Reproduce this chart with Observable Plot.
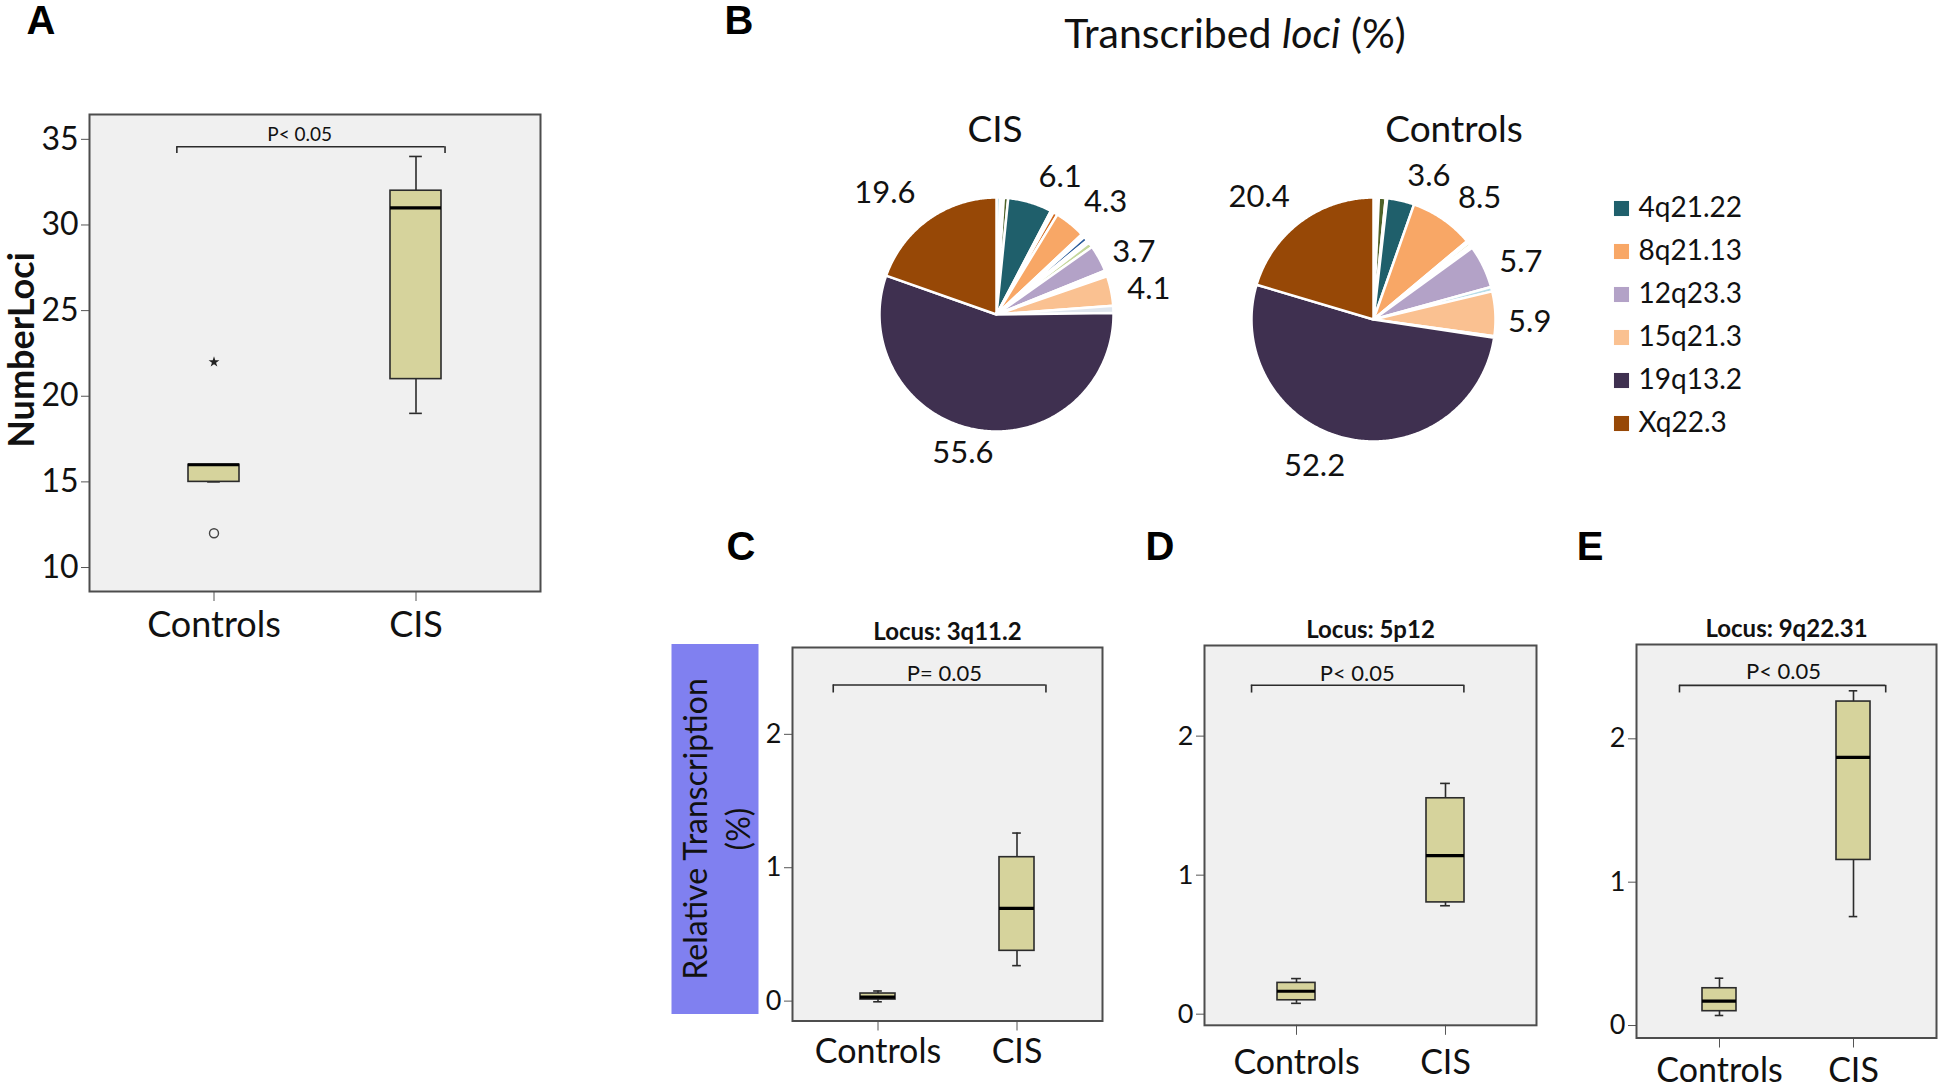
<!DOCTYPE html>
<html>
<head>
<meta charset="utf-8">
<script src="https://cdn.jsdelivr.net/npm/d3@7"></script>
<script src="https://cdn.jsdelivr.net/npm/@observablehq/plot@0.6"></script>
<style>
  html, body { margin: 0; padding: 0; background: #ffffff; }
  body { width: 1946px; height: 1089px; position: relative; overflow: hidden; font-family: Lato, "Open Sans", sans-serif; color: #111; }
  .abs { position: absolute; }
  .ctr { position: absolute; transform: translate(-50%, -50%); white-space: nowrap; line-height: 1.2; }
  .letter { font-family: "Liberation Sans", Arial, sans-serif; font-weight: bold; font-size: 40px; color: #000; }
  svg { max-width: none !important; }
</style>
</head>
<body>
<script>
// ---------------- DATA ----------------
const groups = ["Controls", "CIS"];

// Panel A: number of transcribed loci
const aLow = [15, 19];
const aQ1 = [15, 21];
const aMedian = [16, 31];
const aQ3 = [16, 32];
const aHigh = [16, 34];
const aOutlierGroup = ["Controls", "Controls"];
const aOutlierValue = [22, 12];
const aOutlierKind = ["extreme", "outlier"];
const aTicks = [10, 15, 20, 25, 30, 35];
const aP = "P< 0.05";

// Panel C: Locus 3q11.2
const cLow = [-0.005, 0.266];
const cQ1 = [0.012, 0.377];
const cMedian = [0.03, 0.696];
const cQ3 = [0.057, 1.079];
const cHigh = [0.076, 1.26];
const cP = "P= 0.05";

// Panel D: Locus 5p12
const dLow = [0.078, 0.78];
const dQ1 = [0.10, 0.804];
const dMedian = [0.165, 1.14];
const dQ3 = [0.225, 1.553];
const dHigh = [0.256, 1.66];
const dP = "P< 0.05";

// Panel E: Locus 9q22.31
const eLow = [0.07, 0.76];
const eQ1 = [0.10, 1.155];
const eMedian = [0.17, 1.87];
const eQ3 = [0.26, 2.26];
const eHigh = [0.33, 2.335];
const eP = "P< 0.05";

const relTicks = [0, 1, 2];

// Panel B: transcribed loci (%)
const lociNames = ["4q21.22", "8q21.13", "12q23.3", "15q21.3", "19q13.2", "Xq22.3"];
const lociColors = ["#1f5f6b", "#f8a766", "#b3a2c7", "#fac191", "#3f3050", "#974806"];
const minorNames = ["minor pale cyan", "minor olive", "minor rust", "minor blue", "minor pale green", "minor pale grey", "minor white"];
const minorColors = ["#b7dde8", "#4f6228", "#d2691e", "#2a5b9a", "#c4d79b", "#dfe6ee", "#ffffff"];

const cisSlices = ["minor pale cyan", "minor white", "minor olive", "4q21.22", "minor white", "minor rust", "8q21.13",
  "minor white", "minor blue", "minor white", "minor pale green", "12q23.3", "minor white", "15q21.3", "minor pale grey",
  "19q13.2", "Xq22.3"];
const cisPercent = [0.5, 0.5, 0.6, 6.1, 0.4, 0.6, 4.3, 0.5, 0.6, 0.4, 0.7, 3.7, 0.8, 4.1, 1.0, 55.6, 19.6];

const ctrlSlices = ["minor pale cyan", "minor white", "minor olive", "minor white", "4q21.22", "8q21.13", "minor white",
  "minor pale green", "minor white", "12q23.3", "minor pale cyan", "15q21.3", "minor white", "19q13.2", "Xq22.3"];
const ctrlPercent = [0.4, 0.3, 0.9, 0.2, 3.6, 8.5, 0.3, 0.4, 0.4, 5.7, 0.6, 5.9, 0.2, 52.2, 20.4];

// ---------------- LAYOUT / STYLE ----------------
const FONT = "Lato, 'Open Sans', sans-serif";
const allKeys = lociNames.concat(minorNames);
const allColors = lociColors.concat(minorColors);

// label placement tweaks (degrees of rotation, extra radial px) – mimic the original label layout
const cisLabelTweak = {"4q21.22": [7.5, 5], "8q21.13": [4, 6], "12q23.3": [2.7, -2], "15q21.3": [0.8, 2], "19q13.2": [4.7, -11], "Xq22.3": [-6.5, 8]};
const ctrlLabelTweak = {"4q21.22": [7.7, 3], "8q21.13": [5.5, 6], "12q23.3": [3.2, 0], "15q21.3": [2.3, 0], "19q13.2": [9.9, -4], "Xq22.3": [-5.4, 6]};

function place(node, left, top) {
  const d = document.createElement("div");
  d.className = "abs";
  d.style.left = left + "px";
  d.style.top = top + "px";
  d.appendChild(node);
  document.body.appendChild(d);
  return d;
}
function label(html, cx, cy, css) {
  const d = document.createElement("div");
  d.className = "ctr";
  d.style.left = cx + "px";
  d.style.top = cy + "px";
  d.innerHTML = html;
  Object.assign(d.style, css || {});
  document.body.appendChild(d);
  return d;
}

// band layout shared by all box plots
const PAD_IN = 0.748, PAD_OUT = 0.487;
function bandGeom() {
  const step = 1 / (2 - PAD_IN + 2 * PAD_OUT);
  const start0 = PAD_OUT * step;
  const bw = (1 - PAD_IN) * step;
  return {step, start0, bw, c0: start0 + bw / 2, c1: start0 + step + bw / 2, end1: start0 + step + bw};
}

function boxPanel(o) {
  const mL = 70, mR = 12, mT = 50, mB = 80;
  const [fx, fy, W, H] = o.frame;
  const g = bandGeom();
  const bwPx = g.bw * W;
  const capInset = bwPx * 0.375;
  const stats = groups.map((grp, i) => ({group: grp, lo: o.low[i], q1: o.q1[i], med: o.median[i], q3: o.q3[i], hi: o.high[i]}));
  const bracket = [{from: groups[0], to: groups[1], y: o.bracketY, yEnd: o.bracketEnd}];
  const ink = "#2b2b2b";
  const marks = [
    Plot.frame({fill: "#f0f0f0", stroke: "none"}),
    Plot.axisY({ticks: o.ticks, tickFormat: d => String(d), tickSize: 8, tickPadding: 3, fontSize: o.yFont, label: null, stroke: "#555"}),
    Plot.axisX({tickSize: 10, tickPadding: o.xPad, fontSize: o.xFont, label: null, stroke: "#555"}),
    Plot.ruleX(stats, {x: "group", y1: "lo", y2: "hi", stroke: ink, strokeWidth: 1.6}),
    Plot.tickY(stats, {x: "group", y: "lo", insetLeft: capInset, insetRight: capInset, stroke: ink, strokeWidth: 1.6}),
    Plot.tickY(stats, {x: "group", y: "hi", insetLeft: capInset, insetRight: capInset, stroke: ink, strokeWidth: 1.6}),
    Plot.barY(stats, {x: "group", y1: "q1", y2: "q3", fill: "#d6d39c", stroke: ink, strokeWidth: 1.6}),
    Plot.tickY(stats, {x: "group", y: "med", stroke: "#000", strokeWidth: 3.2}),
    // significance bracket
    Plot.ruleY(bracket, {y: "y", x1: "from", x2: "to", insetLeft: (o.bracketL - g.start0) * W, insetRight: (g.end1 - o.bracketR) * W, stroke: ink, strokeWidth: 1.6}),
    Plot.ruleX(bracket, {x: "from", y1: "y", y2: "yEnd", dx: (o.bracketL - g.c0) * W, stroke: ink, strokeWidth: 1.6}),
    Plot.ruleX(bracket, {x: "to", y1: "y", y2: "yEnd", dx: (o.bracketR - g.c1) * W, stroke: ink, strokeWidth: 1.6}),
    Plot.text([o.pText], {y: () => o.pY, text: d => d, dx: (o.pX - 0.5) * W, fontSize: o.pFont, fill: "#111"})
  ];
  if (o.outliers) {
    marks.push(Plot.dot(o.outliers.filter(d => d.kind === "outlier"), {x: "group", y: "value", r: 4.5, stroke: "#444", strokeWidth: 1.4, fill: "none"}));
    marks.push(Plot.dot(o.outliers.filter(d => d.kind === "extreme"), {x: "group", y: "value", r: 3.4, symbol: "star", fill: "#222", stroke: "none"}));
  }
  if (o.title) {
    marks.push(Plot.text([o.title], {text: d => d, frameAnchor: "top", lineAnchor: "middle", dy: -15, fontSize: 24, fontWeight: "bold", fill: "#111"}));
  }
  marks.push(Plot.frame({stroke: "#4d4d4d", strokeWidth: 2}));
  const svg = Plot.plot({
    width: mL + W + mR, height: mT + H + mB,
    marginLeft: mL, marginRight: mR, marginTop: mT, marginBottom: mB,
    x: {type: "band", domain: groups, paddingInner: PAD_IN, paddingOuter: PAD_OUT, label: null},
    y: {domain: o.yDomain, label: null},
    style: {background: "transparent", overflow: "visible", fontFamily: FONT, color: "#111", maxWidth: "none"},
    marks
  });
  place(svg, fx - mL, fy - mT);
}

function pieChart(slices, percents, cx, cy, R, tweak) {
  const size = 440, half = size / 2 / R;
  const arcs = d3.pie().sort(null).value(d => d)(percents);
  const pts = [];
  arcs.forEach((a, i) => {
    const n = Math.max(2, Math.ceil((a.endAngle - a.startAngle) / 0.01));
    pts.push({slice: i, key: slices[i], x: 0, y: 0});
    for (let k = 0; k <= n; k++) {
      const t = a.startAngle + (a.endAngle - a.startAngle) * k / n;
      pts.push({slice: i, key: slices[i], x: Math.sin(t), y: Math.cos(t)});
    }
  });
  const fs = 31;
  const labels = [];
  arcs.forEach((a, i) => {
    const key = slices[i];
    if (!lociNames.includes(key)) return;
    const [rot, extra] = tweak[key] || [0, 0];
    const mid = (a.startAngle + a.endAngle) / 2 + rot * Math.PI / 180;
    const txt = a.value.toFixed(1);
    const w = (txt.length - 1) * 0.58 * fs + 0.27 * fs;
    const h = 0.72 * fs + 4;
    const dist = 1 + (12 + extra + Math.abs(Math.sin(mid)) * w / 2 + Math.abs(Math.cos(mid)) * h / 2) / R;
    labels.push({x: dist * Math.sin(mid), y: dist * Math.cos(mid), text: txt});
  });
  const svg = Plot.plot({
    width: size, height: size, margin: 0,
    x: {domain: [-half, half], axis: null},
    y: {domain: [-half, half], axis: null},
    color: {domain: allKeys, range: allColors},
    style: {background: "transparent", overflow: "visible", fontFamily: FONT, color: "#111", maxWidth: "none"},
    marks: [
      Plot.line(pts, {x: "x", y: "y", z: "slice", fill: "key", stroke: "#ffffff", strokeWidth: 2.5, curve: "linear-closed"}),
      Plot.text(labels, {x: "x", y: "y", text: "text", fontSize: fs, dy: 4, fill: "#111"})
    ]
  });
  place(svg, cx - size / 2, cy - size / 2);
}

// ---------------- PANEL LETTERS ----------------
label("A", 41, 20, {}).classList.add("letter");
label("B", 739, 20, {}).classList.add("letter");
label("C", 741, 546, {}).classList.add("letter");
label("D", 1160, 546, {}).classList.add("letter");
label("E", 1590, 546, {}).classList.add("letter");

// ---------------- PANEL A ----------------
boxPanel({
  frame: [89, 114, 451, 477], yDomain: [8.6, 36.45], ticks: aTicks,
  low: aLow, q1: aQ1, median: aMedian, q3: aQ3, high: aHigh,
  outliers: aOutlierValue.map((v, i) => ({group: aOutlierGroup[i], value: v, kind: aOutlierKind[i]})),
  bracketY: 34.57, bracketEnd: 34.18, bracketL: 0.193, bracketR: 0.789,
  pText: aP, pY: 35.24, pX: 0.466, pFont: 19, yFont: 32, xFont: 36, xPad: 10
});
label("NumberLoci", 20, 350, {transform: "translate(-50%,-50%) rotate(-90deg)", fontWeight: "bold", fontSize: "36px", lineHeight: "1", color: "#111"});

// ---------------- PANEL B ----------------
label("Transcribed <i>loci</i> (%)", 1235, 33, {fontSize: "41px"});
label("CIS", 995, 128, {fontSize: "37px"});
label("Controls", 1454, 128, {fontSize: "37px"});
pieChart(cisSlices, cisPercent, 996, 314, 117, cisLabelTweak);
pieChart(ctrlSlices, ctrlPercent, 1373, 319, 122, ctrlLabelTweak);

// legend
const legendSvg = Plot.plot({
  width: 320, height: 280, margin: 0,
  y: {type: "point", domain: lociNames, range: [27, 243], padding: 0, axis: null},
  color: {domain: allKeys, range: allColors},
  style: {background: "transparent", overflow: "visible", fontFamily: FONT, color: "#111", maxWidth: "none"},
  marks: [
    Plot.dot(lociNames, {y: d => d, fill: d => d, symbol: "square", r: 8.5, frameAnchor: "left", dx: 21}),
    Plot.text(lociNames, {y: d => d, text: d => d, frameAnchor: "left", dx: 38, textAnchor: "start", fontSize: 28, fill: "#111"})
  ]
});
place(legendSvg, 1600, 180);

// ---------------- PANELS C, D, E ----------------
const ylab = label("Relative Transcription<br>(%)", 714.5, 829, {});
Object.assign(ylab.style, {width: "370px", height: "87px", background: "#8080f0", transform: "translate(-50%,-50%) rotate(-90deg)",
  display: "flex", alignItems: "center", justifyContent: "center", textAlign: "center", fontSize: "32px", lineHeight: "43px", color: "#111"});

boxPanel({
  frame: [792, 646.6, 310, 373.5], yDomain: [-0.149, 2.651], ticks: relTicks,
  low: cLow, q1: cQ1, median: cMedian, q3: cQ3, high: cHigh,
  bracketY: 2.37, bracketEnd: 2.31, bracketL: 0.131, bracketR: 0.818,
  pText: cP, pY: 2.455, pX: 0.49, pFont: 22, yFont: 27, xFont: 34, xPad: 8, title: "Locus: 3q11.2"
});
boxPanel({
  frame: [1204, 645.3, 332, 379.8], yDomain: [-0.08, 2.652], ticks: relTicks,
  low: dLow, q1: dQ1, median: dMedian, q3: dQ3, high: dHigh,
  bracketY: 2.366, bracketEnd: 2.31, bracketL: 0.14, bracketR: 0.78,
  pText: dP, pY: 2.45, pX: 0.46, pFont: 22, yFont: 27, xFont: 34, xPad: 15, title: "Locus: 5p12"
});
boxPanel({
  frame: [1636, 644, 300, 393.5], yDomain: [-0.087, 2.658], ticks: relTicks,
  low: eLow, q1: eQ1, median: eMedian, q3: eQ3, high: eHigh,
  bracketY: 2.373, bracketEnd: 2.32, bracketL: 0.142, bracketR: 0.832,
  pText: eP, pY: 2.467, pX: 0.49, pFont: 22, yFont: 27, xFont: 34, xPad: 10, title: "Locus: 9q22.31"
});
</script>
</body>
</html>
